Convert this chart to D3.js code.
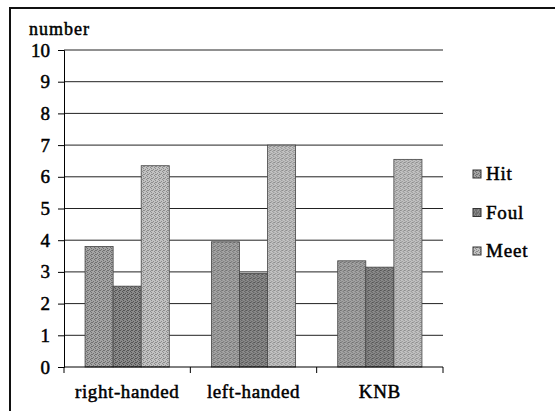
<!DOCTYPE html>
<html>
<head>
<meta charset="utf-8">
<script src="https://cdn.jsdelivr.net/npm/d3@7"></script>
<style>
  body { margin: 0; background: #fff; }
  svg { display: block; }
</style>
</head>
<body>
<svg id="chart" width="555" height="411"></svg>
<script>
// data
const categories = ['right-handed', 'left-handed', 'KNB'];
const seriesNames = ['Hit', 'Foul', 'Meet'];
const hitValues = [3.8, 3.95, 3.35];
const foulValues = [2.55, 2.95, 3.15];
const meetValues = [6.35, 7.0, 6.55];
const yTicks = [0, 1, 2, 3, 4, 5, 6, 7, 8, 9, 10];

const seriesValues = [hitValues, foulValues, meetValues];
// base / dot tones for the speckled look of the scan
const tones = [
  { base: '#a4a4a4', dot: '#707070' },
  { base: '#8a8a8a', dot: '#545454' },
  { base: '#c2c2c2', dot: '#8c8c8c' },
];
const serif = "'Liberation Serif', 'Times New Roman', serif";

const margin = { top: 50, right: 112, bottom: 44, left: 64 };
const width = 555 - margin.left - margin.right;
const height = 411 - margin.top - margin.bottom;

const svg = d3.select('#chart');

// speckle patterns (fixed dot layout)
const dots = [[0, 0], [2, 1], [1, 3], [3, 2], [3, 0]];
const defs = svg.append('defs');
tones.forEach((t, i) => {
  const p = defs.append('pattern')
    .attr('id', `tex${i}`)
    .attr('width', 4).attr('height', 4)
    .attr('patternUnits', 'userSpaceOnUse');
  p.append('rect').attr('width', 4).attr('height', 4).attr('fill', t.base);
  p.selectAll('.dot').data(dots).join('rect')
    .attr('class', 'dot')
    .attr('x', (d) => d[0]).attr('y', (d) => d[1])
    .attr('width', 1).attr('height', 1).attr('fill', t.dot);
});

// outer frame
svg.append('rect')
  .attr('x', 10).attr('y', 8)
  .attr('width', 560).attr('height', 420)
  .attr('fill', 'none').attr('stroke', '#111').attr('stroke-width', 2);

const chart = svg.append('g')
  .attr('transform', `translate(${margin.left},${margin.top})`);

const xScale = d3.scaleBand().domain(categories).range([0, width]);
const innerX = d3.scaleBand().domain(seriesNames)
  .range([0, xScale.bandwidth()]).paddingInner(0).paddingOuter(0.75);
const yScale = d3.scaleLinear().domain([0, 10]).range([height, 0]);

// gridlines
chart.append('g')
  .selectAll('line')
  .data(yTicks.slice(1))
  .join('line')
  .attr('x1', 0).attr('x2', width)
  .attr('y1', (d) => yScale(d)).attr('y2', (d) => yScale(d))
  .attr('stroke', '#222').attr('stroke-width', 1);

// bars
const rows = categories.map((c, i) => ({
  category: c,
  values: seriesNames.map((s, j) => ({ series: s, value: seriesValues[j][i], idx: j })),
}));

chart.append('g')
  .selectAll('g')
  .data(rows)
  .join('g')
  .attr('transform', (d) => `translate(${xScale(d.category)},0)`)
  .selectAll('rect')
  .data((d) => d.values)
  .join('rect')
  .attr('x', (d) => innerX(d.series))
  .attr('y', (d) => yScale(d.value))
  .attr('width', innerX.bandwidth())
  .attr('height', (d) => height - yScale(d.value))
  .attr('fill', (d) => `url(#tex${d.idx})`)
  .attr('stroke', '#444').attr('stroke-width', 0.8);

// y axis
const yAxis = d3.axisLeft(yScale).tickValues(yTicks).tickSize(6).tickPadding(8);
const yAxisG = chart.append('g').call(yAxis)
  .attr('font-family', serif).attr('font-size', 19);
yAxisG.select('.domain').attr('stroke', '#000');
yAxisG.selectAll('.tick line').attr('stroke', '#000');
yAxisG.selectAll('.tick text')
  .attr('fill', '#000').attr('stroke', '#000').attr('stroke-width', 0.5);

// x axis with ticks between categories
const xAxisG = chart.append('g').attr('transform', `translate(0,${height})`);
xAxisG.append('line')
  .attr('x1', 0).attr('x2', width).attr('stroke', '#000');
xAxisG.selectAll('.sep')
  .data(d3.range(categories.length + 1))
  .join('line')
  .attr('class', 'sep')
  .attr('x1', (i) => (i * width) / categories.length)
  .attr('x2', (i) => (i * width) / categories.length)
  .attr('y1', 0).attr('y2', 6)
  .attr('stroke', '#000');
xAxisG.selectAll('.cat')
  .data(categories)
  .join('text')
  .attr('class', 'cat')
  .attr('x', (d) => xScale(d) + xScale.bandwidth() / 2)
  .attr('y', 31)
  .attr('text-anchor', 'middle')
  .attr('font-family', serif).attr('font-size', 19)
  .attr('letter-spacing', 0.6)
  .attr('stroke', '#000').attr('stroke-width', 0.5)
  .text((d) => d);

// y axis title
svg.append('text')
  .attr('x', 29).attr('y', 35)
  .attr('font-family', serif).attr('font-size', 18)
  .attr('letter-spacing', 1)
  .attr('stroke', '#000').attr('stroke-width', 0.5)
  .text('number');

// legend
const legend = svg.append('g').attr('transform', 'translate(473,174)');
const legendItems = legend.selectAll('g')
  .data(seriesNames)
  .join('g')
  .attr('transform', (d, i) => `translate(0,${i * 38.5})`);
legendItems.append('rect')
  .attr('x', 0).attr('y', -4)
  .attr('width', 8).attr('height', 8)
  .attr('fill', (d, i) => `url(#tex${i})`)
  .attr('stroke', '#333').attr('stroke-width', 1);
legendItems.append('text')
  .attr('x', 13).attr('y', 6)
  .attr('font-family', serif).attr('font-size', 19)
  .attr('letter-spacing', 0.8)
  .attr('stroke', '#000').attr('stroke-width', 0.5)
  .text((d) => d);
</script>
</body>
</html>
